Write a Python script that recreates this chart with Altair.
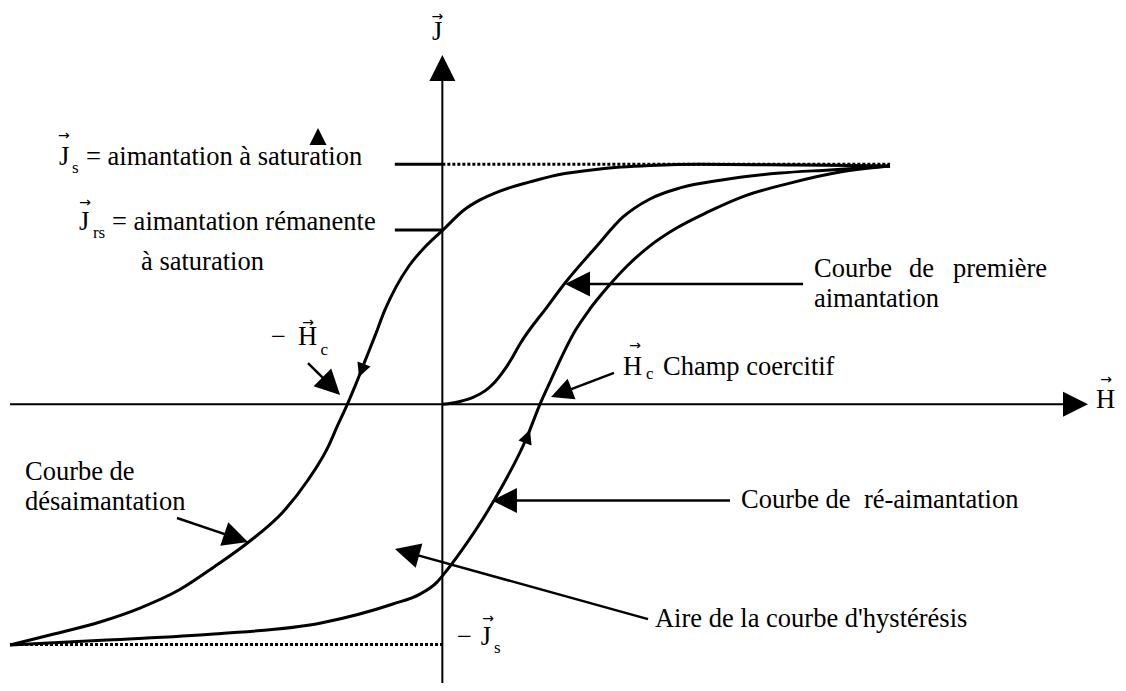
import math
import altair as alt
import pandas as pd

# ---------------- data (H in units of coercive field, J in units of Js) -------------
desc_H = [4.638, 3.706, 2.669, 2.151, 1.633, 1.188, 0.908, 0.597, 0.390, 0.224, 0.007,
          -0.180, -0.346, -0.481, -0.595, -0.698, -0.802, -0.895, -0.988, -1.092, -1.185,
          -1.392, -1.651, -1.993, -2.366, -2.729, -3.133, -3.547, -4.065, -4.479]
desc_J = [0.992, 0.996, 1.000, 0.994, 0.980, 0.955, 0.926, 0.888, 0.851, 0.809, 0.726,
          0.655, 0.576, 0.488, 0.393, 0.285, 0.180, 0.085, -0.003, -0.094, -0.178,
          -0.315, -0.448, -0.569, -0.677, -0.773, -0.848, -0.906, -0.960, -1.002]

asc_H = [-4.479, -3.474, -2.366, -1.257, -0.512, -0.232, -0.055, 0.007, 0.204, 0.525,
         0.877, 1.012, 1.126, 1.240, 1.374, 1.529, 1.706, 1.914, 2.151, 2.431, 2.752,
         3.135, 3.602, 4.120, 4.638]
asc_J = [-1.002, -0.981, -0.956, -0.910, -0.831, -0.790, -0.740, -0.711, -0.606, -0.407,
         -0.136, 0.001, 0.102, 0.201, 0.305, 0.397, 0.485, 0.576, 0.660, 0.735, 0.801,
         0.868, 0.921, 0.967, 0.992]

first_H = [0.000, 0.183, 0.318, 0.442, 0.545, 0.628, 0.722, 0.804, 1.084, 1.271, 1.592,
           1.872, 2.151, 2.462, 2.897, 3.498, 4.016, 4.638]
first_J = [0.000, 0.012, 0.029, 0.056, 0.093, 0.135, 0.193, 0.251, 0.405, 0.505, 0.655,
           0.780, 0.855, 0.901, 0.934, 0.963, 0.976, 0.992]

Js = 1.0
Jrs = 0.726
H_min, H_max = -4.479, 4.638

# callout arrows: from-point and tip (data units)
arrow_from_H = [-1.392, 3.737, 1.778, 2.980, 2.131, -2.749]
arrow_from_J = [0.172, 0.501, 0.131, -0.400, -0.894, -0.473]
arrow_tip_H = [-1.059, 1.271, 1.126, 0.514, -0.491, -2.014]
arrow_tip_J = [0.039, 0.501, 0.031, -0.400, -0.602, -0.573]
arrow_len = [25, 25, 22, 25, 25, 25]

# bare arrowheads (on curves, axis ends, stray mark)
head_from_H = [-0.812, 0.846, 6.430, 0.0, -1.288]
head_from_J = [0.168, -0.172, 0.0, 1.346, 1.080]
head_tip_H = [-0.864, 0.908, 6.689, 0.0, -1.288]
head_tip_J = [0.114, -0.106, 0.0, 1.454, 1.150]
head_len = [14, 14, 25, 26, 17]

# labels
label_text = ["J", "H", "J", "= aimantation à saturation", "J", "= aimantation rémanente",
              "à saturation", "−", "H", "H", "Champ coercitif", "Courbe", "de", "première",
              "aimantation", "Courbe de \u00a0ré-aimantation", "Aire de la courbe d'hystérésis",
              "Courbe de", "désaimantation", "−", "J"]
label_H = [-0.107, 6.772, -3.972, -3.692, -3.765, -3.422, -3.122, -1.774, -1.495, 1.872,
           2.286, 3.850, 4.834, 5.290, 3.850, 3.094, 2.203, -4.324, -4.324, 0.152, 0.398]
label_J = [1.517, -0.015, 0.996, 0.996, 0.726, 0.726, 0.559, 0.247, 0.247, 0.122, 0.122,
           0.530, 0.530, 0.530, 0.405, -0.432, -0.927, -0.315, -0.440, -1.002, -1.002]

sub_text = ["s", "rs", "c", "c", "s"]
sub_H = [-3.837, -3.620, -1.262, 2.110, 0.535]
sub_J = [0.963, 0.692, 0.206, 0.106, -1.035]

vec_H = [-0.051, 6.876, -3.920, -3.702, -1.392, 1.996, 0.473]
vec_J = [1.612, 0.100, 1.117, 0.838, 0.339, 0.243, -0.893]

# ---------------- layout -------------
X_DOMAIN = [-4.5, 7.0]
Y_DOMAIN = [-1.16, 1.65]
W, HG = 1110, 675
KX = W / (X_DOMAIN[1] - X_DOMAIN[0])
KY = HG / (Y_DOMAIN[1] - Y_DOMAIN[0])

xs = alt.Scale(domain=X_DOMAIN, nice=False, zero=False)
ys = alt.Scale(domain=Y_DOMAIN, nice=False, zero=False)
FONT = "Liberation Serif"


def rules(rows, **style):
    df = pd.DataFrame(rows, columns=["H", "J", "H2", "J2"])
    return alt.Chart(df).mark_rule(color="black", **style).encode(
        x=alt.X("H:Q", scale=xs, axis=None),
        y=alt.Y("J:Q", scale=ys, axis=None),
        x2="H2:Q",
        y2="J2:Q",
    )


# curves
rows = []
for name, hh, jj in [("desc", desc_H, desc_J), ("asc", asc_H, asc_J), ("first", first_H, first_J)]:
    for h, j in zip(hh, jj):
        rows.append({"curve": name, "H": h, "J": j})
curves = alt.Chart(pd.DataFrame(rows)).mark_line(
    color="black", strokeWidth=3, interpolate="monotone"
).encode(
    x=alt.X("H:Q", scale=xs, axis=None),
    y=alt.Y("J:Q", scale=ys, axis=None),
    detail="curve:N",
    order="H:Q",
)

# axes
axes = rules([
    [H_min, 0.0, head_from_H[2], 0.0],
    [0.0, Y_DOMAIN[0], 0.0, head_from_J[3]],
], strokeWidth=2)

dotted = rules([
    [0.0, Js, H_max, Js],
    [H_min, -Js, 0.0, -Js],
], strokeWidth=3, strokeDash=[3, 2])

ticks = rules([
    [-0.492, Js, 0.0, Js],
    [-0.492, Jrs, 0.0, Jrs],
], strokeWidth=3)


def direction(fh, fj, th, tj):
    dx = (th - fh) * KX
    dy = -(tj - fj) * KY
    n = math.hypot(dx, dy)
    return dx / n, dy / n


# arrow shafts + heads
shaft_rows = []
head_rows = []
for fh, fj, th, tj, L in zip(arrow_from_H, arrow_from_J, arrow_tip_H, arrow_tip_J, arrow_len):
    ux, uy = direction(fh, fj, th, tj)
    back = 0.7 * L
    eh = th - back * ux / KX
    ej = tj + back * uy / KY
    shaft_rows.append([fh, fj, eh, ej])
    head_rows.append({"H": th, "J": tj, "angle": math.degrees(math.atan2(uy, ux)) % 360, "size": L * L})
for fh, fj, th, tj, L in zip(head_from_H, head_from_J, head_tip_H, head_tip_J, head_len):
    ux, uy = direction(fh, fj, th, tj)
    head_rows.append({"H": th, "J": tj, "angle": math.degrees(math.atan2(uy, ux)) % 360, "size": L * L})

shafts = rules(shaft_rows, strokeWidth=2.5)

heads = alt.Chart(pd.DataFrame(head_rows)).mark_point(
    shape="M0,0L-2,-1L-2,1Z", filled=True, color="black", opacity=1, strokeWidth=0
).encode(
    x=alt.X("H:Q", scale=xs, axis=None),
    y=alt.Y("J:Q", scale=ys, axis=None),
    angle=alt.Angle("angle:Q", scale=None),
    size=alt.Size("size:Q", scale=None),
)

labels = alt.Chart(pd.DataFrame({"H": label_H, "J": label_J, "t": label_text})).mark_text(
    font=FONT, fontSize=26.5, align="left", baseline="alphabetic", color="black"
).encode(
    x=alt.X("H:Q", scale=xs, axis=None),
    y=alt.Y("J:Q", scale=ys, axis=None),
    text="t:N",
)

subs = alt.Chart(pd.DataFrame({"H": sub_H, "J": sub_J, "t": sub_text})).mark_text(
    font=FONT, fontSize=17, align="left", baseline="alphabetic", color="black"
).encode(
    x=alt.X("H:Q", scale=xs, axis=None),
    y=alt.Y("J:Q", scale=ys, axis=None),
    text="t:N",
)

vecs = alt.Chart(pd.DataFrame({"H": vec_H, "J": vec_J, "t": ["→"] * len(vec_H)})).mark_text(
    font="DejaVu Sans", fontSize=14, align="center", baseline="middle", color="black"
).encode(
    x=alt.X("H:Q", scale=xs, axis=None),
    y=alt.Y("J:Q", scale=ys, axis=None),
    text="t:N",
)

chart = alt.layer(axes, dotted, ticks, curves, shafts, heads, labels, subs, vecs).properties(
    width=W, height=HG, padding=0, autosize=alt.AutoSizeParams(type="none")
).configure_view(stroke=None)

chart.save("out.html", embed_options={"renderer": "svg", "actions": False})
